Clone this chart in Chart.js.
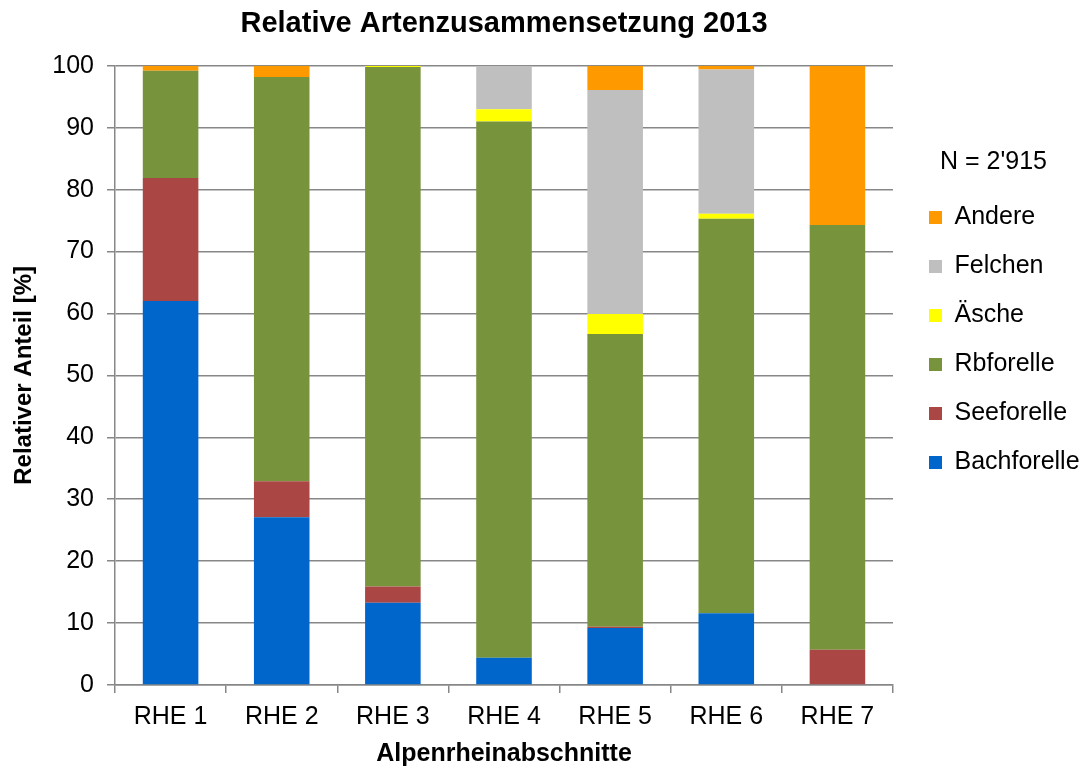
<!DOCTYPE html>
<html>
<head>
<meta charset="utf-8">
<script src="https://cdn.jsdelivr.net/npm/chart.js@4.4.1/dist/chart.umd.min.js"></script>
<style>
  body { margin: 0; background: #fff; }
  #wrap { width: 1082px; height: 767px; }
</style>
</head>
<body>
<div id="wrap"><canvas id="myChart"></canvas></div>
<script>
// dati (in %)
const abschnitte = ['RHE 1', 'RHE 2', 'RHE 3', 'RHE 4', 'RHE 5', 'RHE 6', 'RHE 7'];
const bachforelle = [62.0, 27.1, 13.3, 4.4, 9.2, 11.6, 0];
const seeforelle  = [19.9, 5.8, 2.6, 0, 0.2, 0, 5.7];
const rbforelle   = [17.3, 65.3, 83.9, 86.6, 47.3, 63.7, 68.6];
const aesche      = [0, 0, 0.2, 2.0, 3.2, 0.8, 0];
const felchen     = [0, 0, 0, 7.0, 36.2, 23.3, 0];
const andere      = [0.8, 1.8, 0, 0, 3.9, 0.6, 25.7];
const yTicks = [0, 10, 20, 30, 40, 50, 60, 70, 80, 90, 100];

Chart.defaults.font.family = '"Liberation Sans", Arial, sans-serif';
Chart.defaults.color = '#000';

const gridGray = '#878787';

// setup
const data = {
    labels: abschnitte,
    datasets: [
        { label: 'Bachforelle', data: bachforelle, backgroundColor: '#0066CC' },
        { label: 'Seeforelle', data: seeforelle, backgroundColor: '#AA4643' },
        { label: 'Rbforelle', data: rbforelle, backgroundColor: '#77933C' },
        { label: 'Äsche', data: aesche, backgroundColor: '#FFFF00' },
        { label: 'Felchen', data: felchen, backgroundColor: '#BFBFBF' },
        { label: 'Andere', data: andere, backgroundColor: '#FF9900' }
    ]
};
data.datasets.forEach(ds => {
    ds.barPercentage = 0.5;
    ds.categoryPercentage = 1;
    ds.borderWidth = 0;
});

// config
const config = {
    type: 'bar',
    data,
    options: {
        responsive: true,
        maintainAspectRatio: false,
        animation: false,
        layout: { padding: 0 },
        plugins: {
            title: {
                display: true,
                fullSize: false, // centrato sopra l'area del grafico
                text: 'Relative Artenzusammensetzung 2013',
                font: { size: 29, weight: 'bold' },
                color: '#000',
                padding: { top: 7, bottom: 24 }
            },
            legend: {
                position: 'right',
                align: 'start',
                reverse: true,
                maxWidth: 177,
                title: {
                    display: true,
                    text: "N = 2'915",
                    font: { size: 25 },
                    color: '#000',
                    padding: { top: 150, bottom: 1 }
                },
                labels: {
                    boxWidth: 13,
                    boxHeight: 13,
                    padding: 24,
                    font: { size: 25 },
                    color: '#000'
                }
            },
            tooltip: { enabled: false }
        },
        scales: {
            x: {
                stacked: true,
                grid: {
                    offset: true,
                    drawOnChartArea: false,
                    color: gridGray,
                    tickLength: 8,
                    lineWidth: 1.5
                },
                border: { color: gridGray, width: 1.5 },
                ticks: { font: { size: 25 }, padding: 9, color: '#000' },
                title: {
                    display: true,
                    text: 'Alpenrheinabschnitte',
                    font: { size: 25, weight: 'bold', lineHeight: 1 },
                    color: '#000',
                    padding: { top: 1, bottom: 0 }
                }
            },
            y: {
                stacked: true,
                min: 0,
                max: 100,
                afterBuildTicks: axis => { axis.ticks = yTicks.map(v => ({ value: v })); },
                grid: { color: gridGray, tickLength: 8, lineWidth: 1.5 },
                border: { color: gridGray, width: 1.5 },
                ticks: { font: { size: 25 }, padding: 13, color: '#000' },
                title: {
                    display: true,
                    text: 'Relativer Anteil [%]',
                    font: { size: 24, weight: 'bold' },
                    color: '#000',
                    padding: { top: 10, bottom: 0.5 }
                }
            },
            // asse invisibile: lascia spazio tra grafico e legenda
            gap: {
                type: 'linear',
                position: 'right',
                display: false,
                afterFit: s => { s.width = 12; }
            }
        }
    }
};

// avvio chart
const myChart = new Chart(document.getElementById('myChart'), config);
</script>
</body>
</html>
